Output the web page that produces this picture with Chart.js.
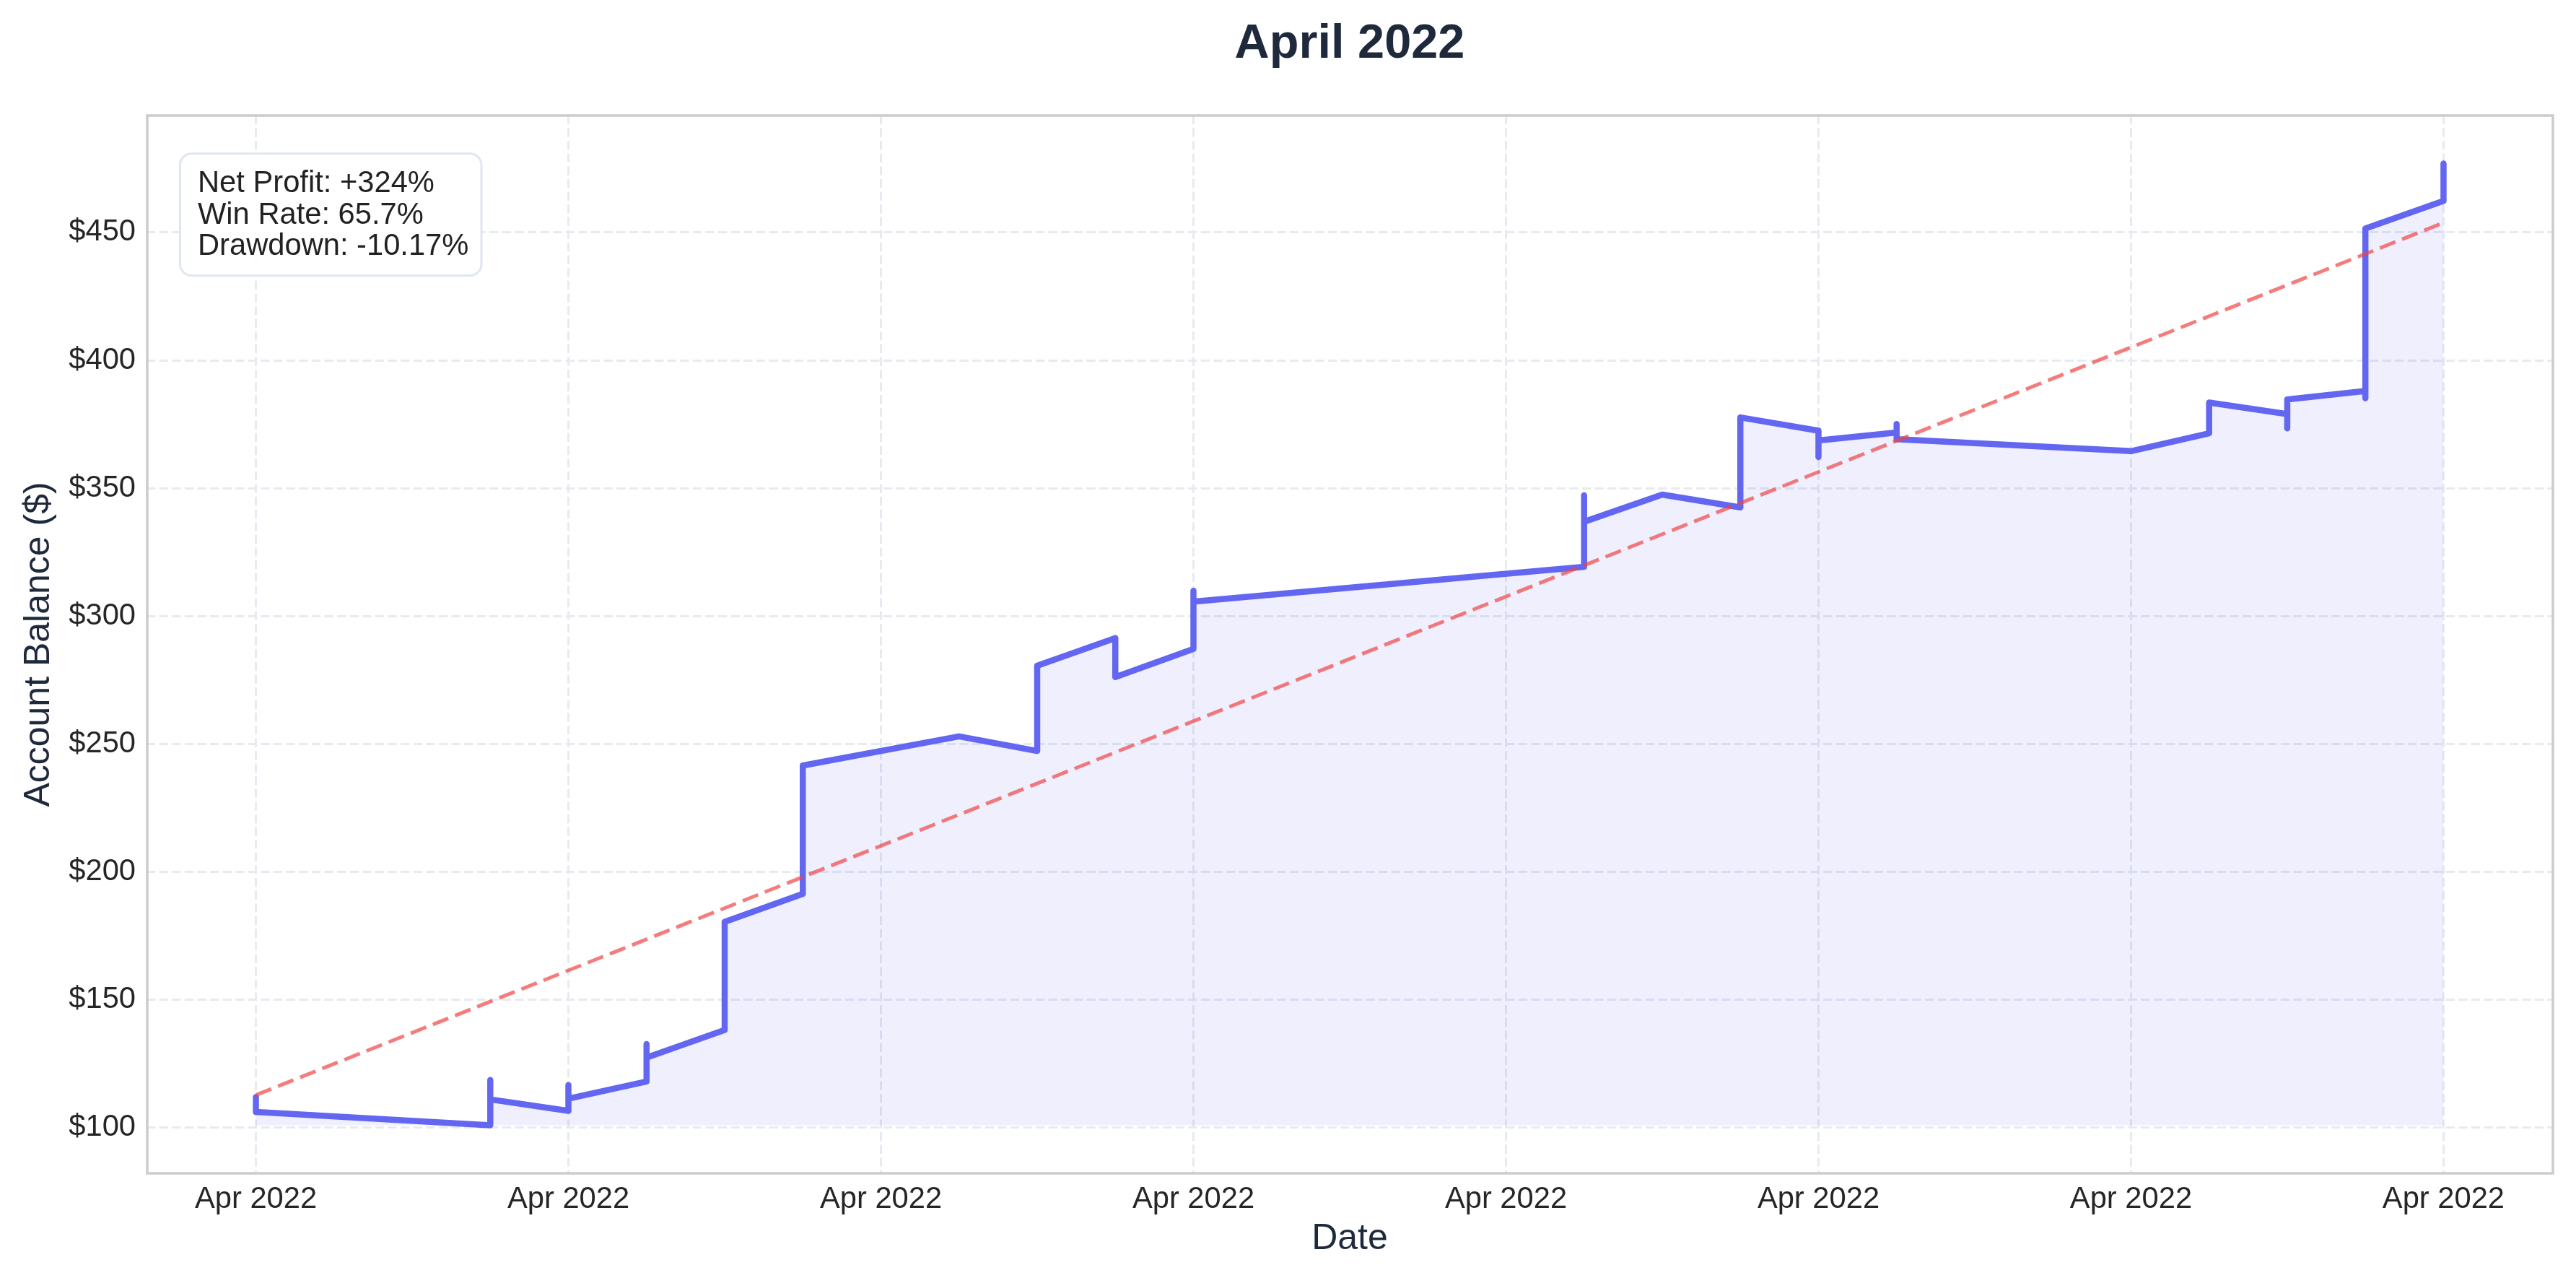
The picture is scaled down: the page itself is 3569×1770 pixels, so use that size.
<!DOCTYPE html>
<html><head><meta charset="utf-8">
<script src="https://cdn.jsdelivr.net/npm/chart.js@4.4.0/dist/chart.umd.min.js"></script>
<style>html,body{margin:0;padding:0;background:#fff;} canvas{display:block;}</style>
</head><body>
<canvas id="c" width="3569" height="1770"></canvas>
<script>
const chartTitle = 'April 2022';
const xAxisTitle = 'Date';
const yAxisTitle = 'Account Balance ($)';

// day offset from Apr 1 2022 for each recorded balance
const tradeDays = [0,0, 3,3,3, 4,4,4, 5,5,5, 6,6,6, 7,7,7, 9, 10,10,10, 11,11, 12,12,12,
  17,17,17, 18, 19,19, 20,20,20, 21,21,21, 24, 25,25, 26,26,26, 27,27,27, 28,28];
const balances = [112.0,106.2, 101.0,118.7,111.1, 106.6,116.7,111.4, 118.1,132.7,127.4,
  138.2,160.8,180.5, 191.4,199.0,241.6, 253.0, 247.3,268.0,280.6, 291.4,276.2, 287.2,309.9,305.7,
  319.3,347.2,336.9, 347.5, 342.5,377.7, 372.5,362.2,368.7, 371.8,375.1,369.2, 364.5,
  371.5,383.5, 379.0,373.4,384.7, 388.0,385.2,451.5, 462.3,476.9];

const trendDays = [0, 28];
const trendValues = [112.8, 453.8];

const xTickDays = [0, 4, 8, 12, 16, 20, 24, 28];
const xTickLabels = ['Apr 2022','Apr 2022','Apr 2022','Apr 2022','Apr 2022','Apr 2022','Apr 2022','Apr 2022'];
const yTickValues = [100, 150, 200, 250, 300, 350, 400, 450];
const statsLines = ['Net Profit: +324%', 'Win Rate: 65.7%', 'Drawdown: -10.17%'];

const fillBase = Math.min(...balances);
const FONT = "'Liberation Sans', Arial, sans-serif";
Chart.defaults.font.family = FONT;

const framePlugin = {
  id: 'frame',
  afterDatasetsDraw(chart) {
    const {ctx, chartArea: a} = chart;
    ctx.save();
    ctx.strokeStyle = '#cccccc';
    ctx.lineWidth = 3.5;
    ctx.strokeRect(a.left + 1, a.top, a.right - a.left - 1, a.bottom - a.top);
    ctx.restore();
  },
  afterDraw(chart) {
    const {ctx, chartArea: a} = chart;
    ctx.save();
    // title centred over the plotting area
    ctx.fillStyle = '#1e293b';
    ctx.font = 'bold 66.7px ' + FONT;
    ctx.textAlign = 'center';
    ctx.textBaseline = 'alphabetic';
    ctx.fillText(chartTitle, (a.left + a.right) / 2, 80);
    // stats box
    const bx = a.left + 46.5, by = a.top + 52.7, bw = 417.5, bh = 169, r = 16;
    ctx.beginPath();
    ctx.roundRect(bx, by, bw, bh, r);
    ctx.fillStyle = 'rgba(255,255,255,0.9)';
    ctx.fill();
    ctx.strokeStyle = '#e0e6ef';
    ctx.lineWidth = 3;
    ctx.stroke();
    ctx.fillStyle = '#222222';
    ctx.font = '41.7px ' + FONT;
    ctx.textAlign = 'left';
    statsLines.forEach((t, i) => ctx.fillText(t, a.left + 71, a.top + 106 + i * 43.5));
    ctx.restore();
  }
};

new Chart(document.getElementById('c'), {
  type: 'line',
  data: {
    datasets: [
      {
        label: 'Balance',
        data: tradeDays.map((d, i) => ({x: d, y: balances[i]})),
        borderColor: '#6366f1',
        borderWidth: 8.5,
        backgroundColor: 'rgba(99,102,241,0.1)',
        fill: {value: fillBase},
        tension: 0,
        pointRadius: 0,
        borderCapStyle: 'round',
        borderJoinStyle: 'round',
        order: 1
      },
      {
        label: 'Trend',
        data: trendDays.map((d, i) => ({x: d, y: trendValues[i]})),
        borderColor: 'rgba(239,68,68,0.7)',
        borderWidth: 5,
        borderDash: [23, 10],
        fill: false,
        pointRadius: 0,
        tension: 0,
        order: 0
      }
    ]
  },
  options: {
    responsive: false,
    devicePixelRatio: 1,
    animation: false,
    layout: {padding: {left: 0, right: 32, top: 160, bottom: 0}},
    plugins: {
      legend: {display: false},
      tooltip: {enabled: false},
      title: {display: false}
    },
    scales: {
      x: {
        type: 'linear',
        min: -1.4,
        max: 29.4,
        afterBuildTicks(scale) { scale.ticks = xTickDays.map(v => ({value: v})); },
        afterFit(scale) { scale.height = 145; },
        ticks: {
          color: '#262626',
          font: {size: 41.7},
          padding: 11,
          maxRotation: 0,
          autoSkip: false,
          callback(value, index) { return xTickLabels[index]; }
        },
        grid: {color: '#e6eaf1', lineWidth: 3, drawTicks: false},
        border: {display: false, dash: [12.3, 5.3]},
        title: {display: true, text: xAxisTitle, color: '#1e293b', font: {size: 50}, padding: {top: 0, bottom: 23.5}}
      },
      y: {
        type: 'linear',
        min: 82.2,
        max: 495.7,
        afterBuildTicks(scale) { scale.ticks = yTickValues.map(v => ({value: v})); },
        afterFit(scale) { scale.width = 203; },
        ticks: {
          color: '#262626',
          font: {size: 41.7},
          padding: 15,
          callback(value) { return '$' + value; }
        },
        grid: {color: '#e6eaf1', lineWidth: 3, drawTicks: false},
        border: {display: false, dash: [12.3, 5.3]},
        title: {display: true, text: yAxisTitle, color: '#1e293b', font: {size: 50}, padding: {top: 24.5, bottom: 0}}
      }
    }
  },
  plugins: [framePlugin]
});
</script>
</body></html>
